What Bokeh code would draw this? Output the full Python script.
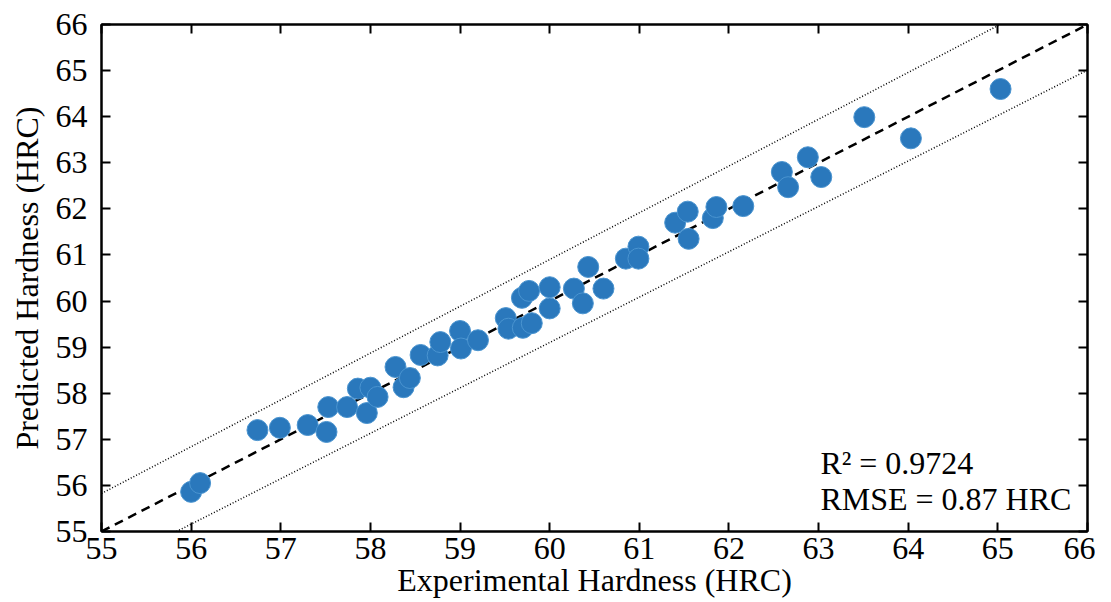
from bokeh.plotting import figure
from bokeh.models import LinearAxis, Range1d, Label, FixedTicker
from bokeh.embed import file_html
from bokeh.resources import INLINE

experimental = [56.0, 56.1, 56.74, 56.99, 57.3, 57.51, 57.53, 57.74, 57.86, 57.96,
                58.0, 58.08, 58.28, 58.37, 58.44, 58.56, 58.75, 58.78, 59.0, 59.01,
                59.2, 59.51, 59.54, 59.69, 59.77, 59.7, 59.8, 60.0, 60.0, 60.27,
                60.37, 60.43, 60.6, 60.85, 60.99, 60.99, 61.4, 61.54, 61.55, 61.82,
                61.86, 62.16, 62.59, 62.66, 62.88, 63.03, 63.51, 64.03, 65.03]
predicted = [55.86, 56.05, 57.2, 57.25, 57.31, 57.16, 57.7, 57.7, 58.1, 57.57,
             58.12, 57.92, 58.57, 58.13, 58.33, 58.83, 58.82, 59.11, 59.35, 58.97,
             59.15, 59.63, 59.4, 60.07, 60.22, 59.42, 59.52, 60.3, 59.84, 60.27,
             59.95, 60.74, 60.27, 60.92, 61.18, 60.92, 61.7, 61.94, 61.35, 61.8,
             62.04, 62.06, 62.8, 62.47, 63.12, 62.69, 63.99, 63.53, 64.6]
ideal_x = [55, 66]
band_upper_factor = 1.015
band_lower_factor = 0.985
ticks = list(range(55, 67))
x_title = "Experimental Hardness (HRC)"
y_title = "Predicted Hardness (HRC)"
r2_text = "R\u00b2 = 0.9724"
rmse_text = "RMSE = 0.87 HRC"

FONT = "Liberation Serif"
FS = "32px"

p = figure(width=1095, height=602, output_backend="svg", toolbar_location=None,
           x_range=Range1d(55, 66), y_range=Range1d(55, 66),
           min_border_left=101, min_border_right=8, min_border_top=24, min_border_bottom=71,
           x_axis_label=x_title, y_axis_label=y_title)
p.grid.visible = False
p.outline_line_color = "black"
p.outline_line_width = 2
p.background_fill_color = "white"
p.border_fill_color = "white"

for ax in [p.xaxis[0], p.yaxis[0]]:
    ax.ticker = FixedTicker(ticks=ticks)
    ax.major_tick_in = 9
    ax.major_tick_out = 0
    ax.minor_tick_in = 0
    ax.minor_tick_out = 0
    ax.axis_line_width = 2
    ax.major_tick_line_width = 2
    ax.major_label_text_font = FONT
    ax.major_label_text_font_size = FS
    ax.major_label_text_color = "black"
    ax.axis_label_text_font = FONT
    ax.axis_label_text_font_size = FS
    ax.axis_label_text_font_style = "normal"
    ax.axis_label_text_color = "black"
p.xaxis[0].major_label_standoff = 6
p.xaxis[0].axis_label_standoff = 0
p.yaxis[0].major_label_standoff = 14
p.yaxis[0].axis_label_standoff = 8

for loc in ["above", "right"]:
    ax = LinearAxis(ticker=FixedTicker(ticks=ticks), major_label_text_font_size="0px",
                    major_tick_in=9, major_tick_out=0, minor_tick_in=0, minor_tick_out=0,
                    axis_line_width=2, major_tick_line_width=2, major_label_standoff=0)
    p.add_layout(ax, loc)

up_y = [v * band_upper_factor for v in ideal_x]
lo_y = [v * band_lower_factor for v in ideal_x]
p.line(ideal_x, up_y, line_color="black", line_width=1.5, line_dash="1 2")
p.line(ideal_x, lo_y, line_color="black", line_width=1.5, line_dash="1 2")
p.line(ideal_x, ideal_x, line_color="black", line_width=2.5, line_dash="9 6")

p.scatter(experimental, predicted, size=21, fill_color="#2a78bc", line_color="#4a94d0",
          line_width=1)

p.add_layout(Label(x=63.02, y=56.49, text=r2_text, text_font=FONT, text_font_size=FS,
                   text_color="black", text_baseline="alphabetic"))
p.add_layout(Label(x=63.02, y=55.71, text=rmse_text, text_font=FONT, text_font_size=FS,
                   text_color="black", text_baseline="alphabetic"))

open("out.html", "w").write(file_html(p, INLINE))
